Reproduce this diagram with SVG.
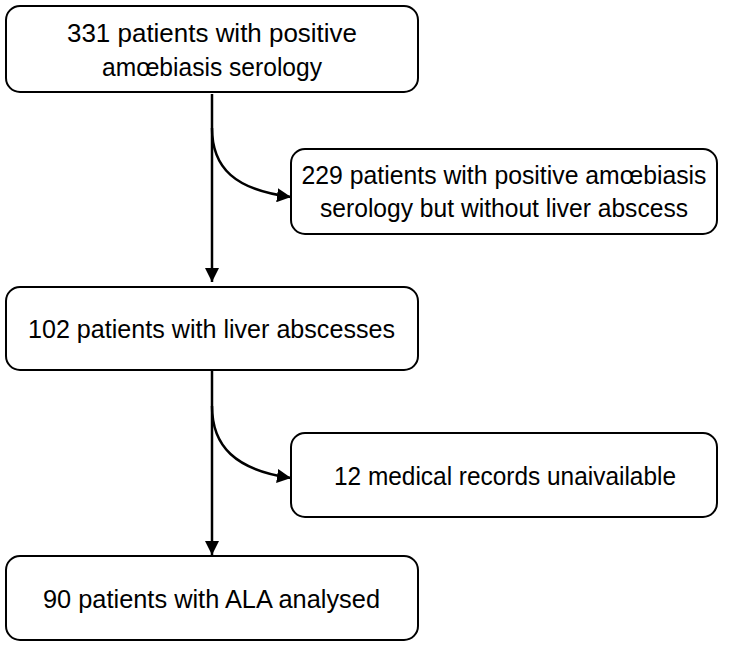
<svg xmlns="http://www.w3.org/2000/svg" width="742" height="648" viewBox="0 0 742 648">
<style>
.box{fill:#fff;stroke:#000;stroke-width:2}
.t{font-family:"Liberation Sans",Arial,sans-serif;font-size:25px;fill:#000;text-anchor:middle}
.c{fill:none;stroke:#000;stroke-width:2.5}
</style>
<defs>
<marker id="ah" markerWidth="10" markerHeight="10" refX="9" refY="5" orient="auto" markerUnits="userSpaceOnUse" viewBox="0 0 10 10">
<path d="M0,0 L10,5 L0,10 Z" fill="#000"/>
</marker>
<marker id="ah2" markerWidth="14" markerHeight="14" refX="14" refY="7" orient="auto" markerUnits="userSpaceOnUse" viewBox="0 0 14 14">
<path d="M0,0 L14,7 L0,14 Z" fill="#000"/>
</marker>
</defs>
<g id="connectors">
<path class="c" d="M212,94 L212,282" marker-end="url(#ah2)"/>
<path class="c" d="M212,128 C212,168 235,190 291,197" marker-end="url(#ah2)"/>
<path class="c" d="M212,371 L212,555" marker-end="url(#ah2)"/>
<path class="c" d="M212,406 C212,446 235,470 291,478" marker-end="url(#ah2)"/>
</g>
<g id="n1">
<rect class="box" x="6" y="6" width="412" height="86" rx="14"/>
<text class="t" x="212" y="42" textLength="290" lengthAdjust="spacingAndGlyphs">331 patients with positive</text>
<text class="t" x="212" y="76" textLength="220" lengthAdjust="spacingAndGlyphs">amœbiasis serology</text>
</g>
<g id="n2">
<rect class="box" x="291" y="149" width="426" height="85" rx="14"/>
<text class="t" x="504" y="184" textLength="405" lengthAdjust="spacingAndGlyphs">229 patients with positive amœbiasis</text>
<text class="t" x="504" y="217" textLength="368" lengthAdjust="spacingAndGlyphs">serology but without liver abscess</text>
</g>
<g id="n3">
<rect class="box" x="6" y="287" width="412" height="83" rx="14"/>
<text class="t" x="211.5" y="338" textLength="367" lengthAdjust="spacingAndGlyphs">102 patients with liver abscesses</text>
</g>
<g id="n4">
<rect class="box" x="291" y="433" width="426" height="84" rx="14"/>
<text class="t" x="505" y="485" textLength="342" lengthAdjust="spacingAndGlyphs">12 medical records unaivailable</text>
</g>
<g id="n5">
<rect class="box" x="6" y="556" width="412" height="84" rx="14"/>
<text class="t" x="211.5" y="608" textLength="337" lengthAdjust="spacingAndGlyphs">90 patients with ALA analysed</text>
</g>
</svg>
